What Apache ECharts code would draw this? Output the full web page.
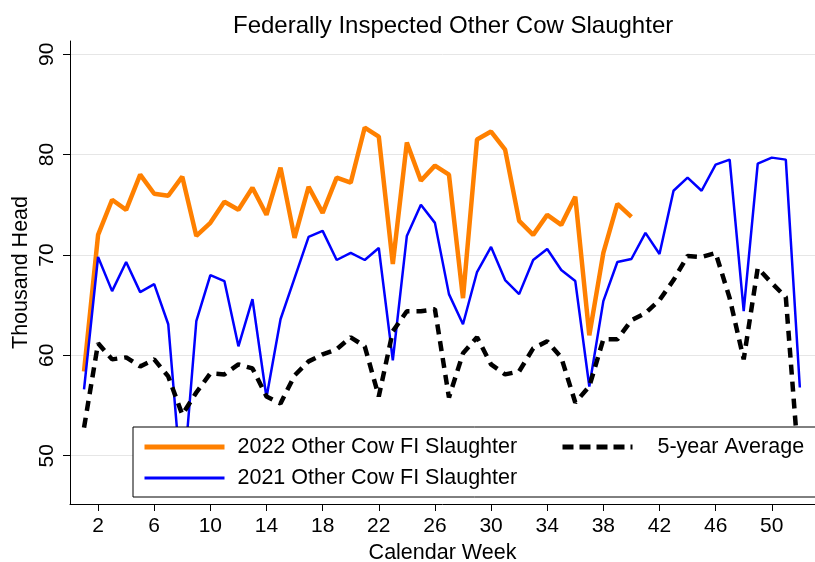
<!DOCTYPE html>
<html>
<head>
<meta charset="utf-8">
<script src="https://cdn.jsdelivr.net/npm/echarts@6/dist/echarts.min.js"></script>
<style>
  html, body { margin: 0; padding: 0; background: #fff; }
  #main { width: 815px; height: 562px; }
</style>
</head>
<body>
<div id="main"></div>
<script>
// Datos (miles de cabezas por semana)
var weeks = [1, 2, 3, 4, 5, 6, 7, 8, 9, 10, 11, 12, 13, 14, 15, 16, 17, 18, 19, 20,
  21, 22, 23, 24, 25, 26, 27, 28, 29, 30, 31, 32, 33, 34, 35, 36, 37, 38, 39, 40,
  41, 42, 43, 44, 45, 46, 47, 48, 49, 50, 51, 52];

var slaughter2022 = [58.4, 72.0, 75.5, 74.5, 78.0, 76.1, 75.9, 77.8, 71.9, 73.2,
  75.3, 74.5, 76.7, 74.0, 78.7, 71.7, 76.8, 74.2, 77.7, 77.2,
  82.7, 81.8, 69.1, 81.2, 77.4, 78.9, 78.0, 65.7, 81.5, 82.3,
  80.5, 73.4, 72.0, 74.0, 73.0, 75.8, 62.0, 70.2, 75.1, 73.8];

var slaughter2021 = [56.6, 69.8, 66.4, 69.3, 66.3, 67.1, 63.1, 46.3, 63.4, 68.0,
  67.4, 60.9, 65.6, 55.8, 63.6, 67.7, 71.8, 72.4, 69.5, 70.2,
  69.5, 70.7, 59.5, 71.9, 75.0, 73.2, 66.1, 63.1, 68.3, 70.8,
  67.5, 66.1, 69.5, 70.6, 68.5, 67.4, 56.9, 65.4, 69.3, 69.6,
  72.2, 70.1, 76.4, 77.7, 76.4, 79.0, 79.5, 64.4, 79.1, 79.7,
  79.5, 56.8];

var avg5yr = [52.8, 61.2, 59.6, 59.8, 58.9, 59.6, 57.9, 54.1, 56.3, 58.2,
  58.1, 59.1, 58.7, 55.9, 55.2, 58.0, 59.4, 60.1, 60.6, 61.8,
  60.9, 55.9, 62.4, 64.4, 64.4, 64.6, 55.8, 60.2, 61.8, 59.1,
  58.1, 58.4, 60.7, 61.4, 59.8, 55.3, 56.9, 61.6, 61.6, 63.5,
  64.2, 65.5, 67.5, 69.9, 69.8, 70.2, 65.7, 59.6, 68.7, 67.2,
  65.8, 47.7];

var xTicks = [2, 6, 10, 14, 18, 22, 26, 30, 34, 38, 42, 46, 50];
var yTicks = [50, 60, 70, 80, 90];

var names = ['2022 Other Cow FI Slaughter', '2021 Other Cow FI Slaughter', '5-year Average'];

function pairs(vals) {
  return vals.map(function (v, i) { return [weeks[i], v]; });
}

var font = "'Liberation Sans', Arial, sans-serif";

var chartDom = document.getElementById('main');
var myChart = echarts.init(chartDom);
var option;

option = {
  backgroundColor: '#fff',
  animation: false,
  title: {
    text: 'Federally Inspected Other Cow Slaughter',
    left: 228,
    top: 9,
    textStyle: { fontFamily: font, fontSize: 24, fontWeight: 'normal', color: '#000' }
  },
  legend: [
    {
      data: [
        { name: names[0], lineStyle: { width: 5 } },
        { name: names[1], lineStyle: { width: 3 } }
      ],
      orient: 'vertical',
      left: 133,
      top: 427,
      padding: [9, 360, 8, 9],
      itemGap: 9,
      itemWidth: 80,
      itemHeight: 10,
      itemStyle: { opacity: 0 },
      backgroundColor: '#fff',
      borderColor: '#000',
      borderWidth: 1,
      textStyle: { fontFamily: font, fontSize: 21.5, color: '#000', lineHeight: 22, padding: [0, 0, 0, 8] }
    },
    {
      data: [names[2]],
      left: 560,
      top: 436,
      padding: 0,
      itemWidth: 70,
      itemHeight: 10,
      itemStyle: { opacity: 0 },
      lineStyle: { width: 5, type: [11, 6] },
      z: 5,
      textStyle: { fontFamily: font, fontSize: 21.5, color: '#000', lineHeight: 22, padding: [0, 0, 0, 20] }
    }
  ],
  grid: { left: 70, right: 0, top: 41, bottom: 58, outerBoundsMode: 'none' },
  xAxis: {
    type: 'value',
    min: 0,
    max: 53.08,
    name: 'Calendar Week',
    nameLocation: 'middle',
    nameGap: 38,
    nameMoveOverlap: false,
    nameTextStyle: { fontFamily: font, fontSize: 21.5, color: '#000' },
    axisLine: { lineStyle: { color: '#000', width: 1 } },
    axisTick: { customValues: xTicks, length: 7, lineStyle: { color: '#000' } },
    axisLabel: { customValues: xTicks, fontFamily: font, fontSize: 21, color: '#000', margin: 12 },
    splitLine: { show: false }
  },
  yAxis: {
    type: 'value',
    min: 45.19,
    max: 91.32,
    name: 'Thousand Head',
    nameLocation: 'middle',
    nameGap: 38,
    nameMoveOverlap: false,
    nameTextStyle: { fontFamily: font, fontSize: 21.5, color: '#000' },
    axisLine: { show: true, lineStyle: { color: '#000', width: 1 } },
    axisTick: { show: true, customValues: yTicks, length: 7, lineStyle: { color: '#000' } },
    axisLabel: { customValues: yTicks, rotate: 90, fontFamily: font, fontSize: 21, color: '#000', margin: 12 },
    splitLine: { show: true, lineStyle: { color: '#e6e6e6', width: 1 } }
  },
  series: [
    {
      name: names[0],
      type: 'line',
      symbol: 'none',
      data: pairs(slaughter2022),
      lineStyle: { color: '#ff8000', width: 4.5 },
      itemStyle: { color: '#ff8000' }
    },
    {
      name: names[1],
      type: 'line',
      symbol: 'none',
      data: pairs(slaughter2021),
      lineStyle: { color: '#0000ff', width: 2.5 },
      itemStyle: { color: '#0000ff' }
    },
    {
      name: names[2],
      type: 'line',
      symbol: 'none',
      data: pairs(avg5yr),
      lineStyle: { color: '#000', width: 4.5, type: [10, 7] },
      itemStyle: { color: '#000' }
    }
  ]
};

option && myChart.setOption(option);
</script>
</body>
</html>
